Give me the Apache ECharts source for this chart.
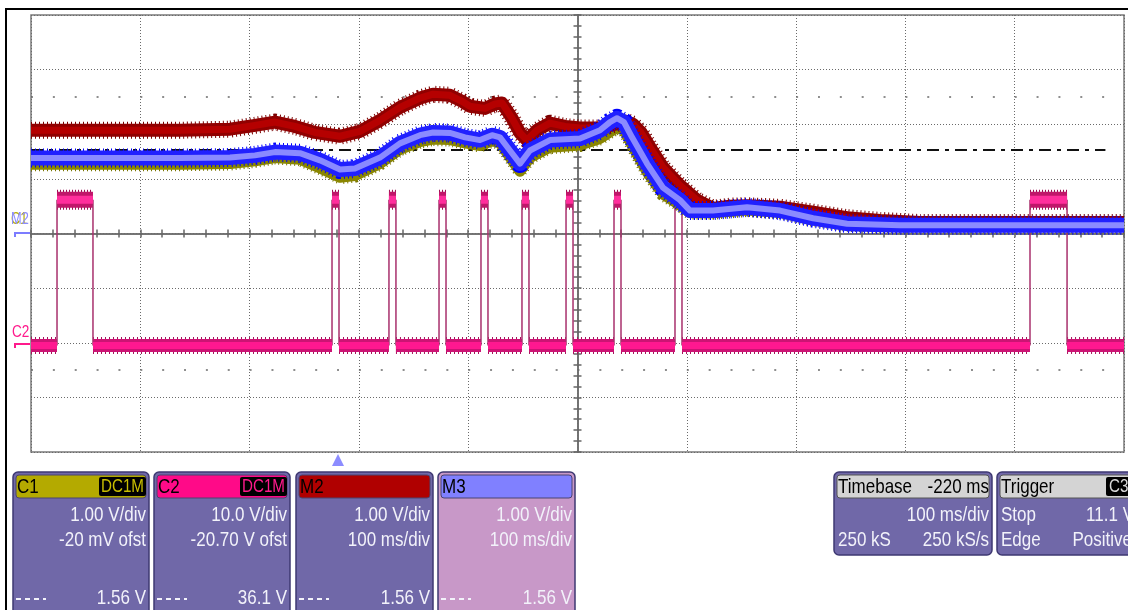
<!DOCTYPE html>
<html><head><meta charset="utf-8">
<script src="https://cdn.jsdelivr.net/npm/echarts@6/dist/echarts.min.js"></script>
<style>html,body{margin:0;padding:0;background:#fff}#c{width:1128px;height:610px}</style>
</head><body><div id="c"></div>
<script>
// ---- data (time in ms relative to trigger, level in screen divisions from centre) ----
const m2TimeMs = [-280,-216.9,-143.7,-97.9,-75.1,-56.8,-38.5,-20.2,2.7,21.0,39.3,57.6,75.9,87.8,103.3,114.3,121.6,135.4,144.5,150.9,160.1,167.4,173.8,182.9,194.8,208.6,222.3,240.6,254.3,263.5,270.8,278.1,286.3,298.2,313.8,329.3,344.0,359.5,375.1,405.3,435.5,466.6,496.8,533.4,606.6,720];
const m2Div = [1.89,1.89,1.89,1.91,1.98,2.04,1.96,1.85,1.78,1.87,2.07,2.31,2.48,2.55,2.53,2.42,2.33,2.29,2.37,2.39,2.11,1.84,1.71,1.89,2.02,1.96,1.93,1.93,2.00,2.06,2.00,1.85,1.58,1.21,0.88,0.61,0.46,0.50,0.51,0.48,0.39,0.29,0.24,0.20,0.20,0.20];
const m3TimeMs = [-280,-216.9,-143.7,-97.9,-75.1,-56.8,-33.9,-15.6,2.7,16.4,39.3,57.6,75.9,87.8,103.3,117.1,130.8,141.8,149.1,158.2,167.4,176.5,194.8,222.3,240.6,249.7,256.1,262.5,269.9,283.6,298.2,313.8,322.9,344.0,375.1,405.3,435.5,466.6,515.1,606.6,720];
const m3Div = [1.38,1.38,1.38,1.39,1.43,1.49,1.47,1.34,1.17,1.19,1.39,1.65,1.80,1.85,1.84,1.76,1.71,1.80,1.76,1.52,1.28,1.52,1.71,1.74,1.89,2.04,2.11,2.04,1.76,1.28,0.84,0.61,0.42,0.42,0.48,0.42,0.28,0.18,0.15,0.15,0.15];
const c1TimeMs = m3TimeMs;
const c1Div = [1.27,1.27,1.27,1.28,1.33,1.39,1.36,1.20,1.03,1.06,1.28,1.54,1.68,1.73,1.72,1.66,1.61,1.70,1.66,1.40,1.14,1.39,1.58,1.62,1.74,1.86,1.94,1.90,1.62,1.13,0.72,0.52,0.38,0.38,0.43,0.39,0.25,0.16,0.13,0.13,0.13];
const c2PulseStartMs = [-256.2,-4.6,47.5,93.3,131.7,169.2,209.5,253.4,309.2,634.0];
const c2PulseEndMs   = [-223.3,1.8,53.9,99.7,138.1,175.6,215.9,259.8,315.6,667.9];
const c2LowDiv = -2.05;
const c2HighDiv = 0.62;
const triggerLevelDiv = 1.54;
const timeMinMs = -280, timeMaxMs = 720;

// ---- build series data ----
const zip = (a, b) => a.map((v, i) => [v, b[i]]);
const lowSeg = [[timeMinMs, c2LowDiv]];
const highSeg = [], edges = [];
c2PulseStartMs.forEach((s, i) => {
  const e = c2PulseEndMs[i];
  lowSeg.push([s, c2LowDiv], [s, '-'], [e, c2LowDiv]);
  highSeg.push([s, c2HighDiv], [e, c2HighDiv], [e, '-']);
  edges.push([s, c2LowDiv], [s, c2HighDiv], [s, '-'], [e, c2LowDiv], [e, c2HighDiv], [e, '-']);
});
lowSeg.push([timeMaxMs, c2LowDiv]);
const m2 = zip(m2TimeMs, m2Div), m3 = zip(m3TimeMs, m3Div), c1 = zip(c1TimeMs, c1Div);

function line(data, color, width, z, dash) {
  return { type: 'line', xAxisIndex: 2, yAxisIndex: 0, data, symbol: 'none', silent: true, z,
    lineStyle: { color, width, cap: 'butt', join: 'round', type: dash || 'solid' }, connectNulls: false };
}

const divX = { type: 'value', min: -5, max: 5, interval: 1, axisLabel: { show: false } };
const tickStyle = { color: '#666', width: 1.5 };
const gridDots = { color: '#6a6a6a', width: 1, type: [1, 2] };
const axisLineStyle = { color: '#6e6e6e', width: 1.6 };
const option = {
  animation: false,
  backgroundColor: '#ffffff',
  grid: { left: 31, top: 15, right: 4, bottom: 158, show: true, borderColor: '#7a7a7a', borderWidth: 1.5, backgroundColor: '#fff' },
  xAxis: [
    Object.assign({}, divX, { position: 'bottom', axisLine: { show: true, onZero: true, onZeroAxisIndex: 0, lineStyle: axisLineStyle },
      axisTick: { show: true, length: 4, lineStyle: tickStyle }, minorTick: { show: true, splitNumber: 5, length: 4, lineStyle: tickStyle },
      splitLine: { show: true, lineStyle: gridDots } }),
    Object.assign({}, divX, { position: 'top', axisLine: { show: true, onZero: true, onZeroAxisIndex: 0, lineStyle: axisLineStyle },
      axisTick: { show: true, length: 4, lineStyle: tickStyle }, minorTick: { show: true, splitNumber: 5, length: 4, lineStyle: tickStyle },
      splitLine: { show: false } }),
    { type: 'value', min: timeMinMs, max: timeMaxMs, show: false }
  ],
  yAxis: [
    { type: 'value', min: -4, max: 4, interval: 1, position: 'left', axisLabel: { show: false },
      axisLine: { show: true, onZero: true, onZeroAxisIndex: 0, lineStyle: axisLineStyle },
      axisTick: { show: true, length: 4, lineStyle: tickStyle }, minorTick: { show: true, splitNumber: 5, length: 4, lineStyle: tickStyle },
      splitLine: { show: true, lineStyle: gridDots } },
    { type: 'value', min: -4, max: 4, interval: 1, position: 'right', axisLabel: { show: false },
      axisLine: { show: true, onZero: true, onZeroAxisIndex: 0, lineStyle: axisLineStyle },
      axisTick: { show: true, length: 4, lineStyle: tickStyle }, minorTick: { show: true, splitNumber: 5, length: 4, lineStyle: tickStyle },
      splitLine: { show: false } }
  ],
  series: [
    Object.assign(line(lowSeg, '#a8105c', 17, 3, [1, 3]), {
      markLine: { silent: true, symbol: ['none', 'none'], label: { show: false },
        data: [
          { yAxis: 2.5, lineStyle: { color: '#6a6a6a', width: 1.5, type: [2, 19.86] } },
          { yAxis: -2.5, lineStyle: { color: '#6a6a6a', width: 1.5, type: [2, 19.86] } },
          [ { coord: [timeMinMs, triggerLevelDiv], lineStyle: { color: '#111', width: 2, type: [12, 6, 4, 6] } }, { coord: [703, triggerLevelDiv] } ]
        ] } }),
    line(lowSeg, '#cc1474', 13, 3),
    line(lowSeg, '#ff1890', 7, 4),
    line(highSeg, '#9a0e50', 20, 3, [1, 2]),
    line(highSeg, '#c0166a', 16, 3),
    line(highSeg, '#ff2e9c', 8, 4),
    line(edges, '#a8306c', 1.5, 3),
    line(c1, '#7a7600', 14, 5, [1, 3]),
    line(c1, '#8a8600', 11, 5),
    line(m2, '#7a0000', 17, 6, [1, 3]),
    line(m2, '#900000', 13, 6),
    line(m2, '#b50000', 7, 7),
    line(m3, '#0000ff', 19, 8, [1, 3]),
    line(m3, '#2020ff', 15, 8),
    line(m3, '#8a8aff', 6, 9)
  ],
  graphic: []
};

// ---- decorations / panels ----
const FONT = (s) => s + 'px "Liberation Sans", Arial, sans-serif';
const G = [];
function txt(x, y, s, align, color, size, sx) {
  G.push({ type: 'text', x, y, scaleX: sx || 0.81, z: 100,
    style: { text: s, x: 0, y: 0, align, verticalAlign: 'middle', textAlign: align, textVerticalAlign: 'middle', font: FONT(size || 21), fill: color } });
}
function rect(x, y, w, h, fill, stroke, r, lw) {
  G.push({ type: 'rect', z: 90, shape: { x, y, width: w, height: h, r: r || 0 }, style: { fill, stroke: stroke || null, lineWidth: lw || 1 } });
}
// outer frame
rect(5, 8, 1130, 2, '#000');
rect(5, 8, 2, 610, '#000');
// left markers
G.push({ type: 'polyline', z: 100, shape: { points: [[15, 237], [15, 233], [30, 233]] }, style: { stroke: '#7c7cff', lineWidth: 2, fill: null } });
G.push({ type: 'polyline', z: 100, shape: { points: [[15, 348], [15, 344], [30, 344]] }, style: { stroke: '#ff1a8c', lineWidth: 2, fill: null } });
txt(11, 220, 'C1', 'left', '#b4aa00', 16, 0.8);
txt(11, 220, 'M2', 'left', '#8c8cff', 16, 0.8);
txt(12, 333, 'C2', 'left', '#ff1a8c', 16, 0.85);
// trigger position marker
G.push({ type: 'polygon', z: 100, shape: { points: [[332, 466], [344, 466], [338, 454]] }, style: { fill: '#8c8cff' } });

const WHITE = '#f2f2fa';
function chanPanel(x, w, body, head, name, box, boxColor, rows) {
  rect(x, 472, w, 150, body, '#3e3872', [5, 5, 0, 0], 1.5);
  rect(x + 3, 475, w - 6, 23, head, '#4a4470', 3, 1);
  txt(x + 4, 487, name, 'left', '#000', 21);
  if (box) { rect(x + w - 50, 477, 47, 19, '#000', null, 2); txt(x + w - 26.5, 487, box, 'center', boxColor, 19, 0.8); }
  txt(x + w - 3, 515, rows[0], 'right', WHITE);
  txt(x + w - 3, 540, rows[1], 'right', WHITE);
  txt(x + w - 3, 598, rows[2], 'right', WHITE);
  G.push({ type: 'line', z: 100, shape: { x1: x + 3, y1: 599, x2: x + 33, y2: 599 }, style: { stroke: WHITE, lineWidth: 2, lineDash: [5, 4] } });
}
chanPanel(13, 136, '#7068a8', '#b4aa00', 'C1', 'DC1M', '#c8be00', ['1.00 V/div', '-20 mV ofst', '1.56 V']);
chanPanel(154, 136, '#7068a8', '#ff0a88', 'C2', 'DC1M', '#ff1a8c', ['10.0 V/div', '-20.70 V ofst', '36.1 V']);
chanPanel(296, 137, '#7068a8', '#b00000', 'M2', null, null, ['1.00 V/div', '100 ms/div', '1.56 V']);
chanPanel(438, 137, '#c898c8', '#8080ff', 'M3', null, null, ['1.00 V/div', '100 ms/div', '1.56 V']);

// timebase
rect(834, 472, 158, 83, '#7068a8', '#3e3872', 5, 1.5);
rect(837, 475, 152, 23, '#d4d4d4', '#555', 3, 1);
txt(838, 487, 'Timebase', 'left', '#000');
txt(989, 487, '-220 ms', 'right', '#000');
txt(989, 515, '100 ms/div', 'right', WHITE);
txt(838, 540, '250 kS', 'left', WHITE);
txt(989, 540, '250 kS/s', 'right', WHITE);
// trigger
rect(997, 472, 150, 83, '#7068a8', '#3e3872', 5, 1.5);
rect(1000, 475, 144, 23, '#d4d4d4', '#555', 3, 1);
txt(1001, 487, 'Trigger', 'left', '#000');
rect(1106, 477, 30, 19, '#000', null, 2);
txt(1109, 487, 'C3', 'left', '#d8d8d8', 19, 0.8);
txt(1001, 515, 'Stop', 'left', WHITE);
txt(1134, 515, '11.1 V', 'right', WHITE);
txt(1001, 540, 'Edge', 'left', WHITE);
txt(1132, 540, 'Positive', 'right', WHITE);

option.graphic = G;
const chart = echarts.init(document.getElementById('c'), null, { renderer: 'canvas' });
chart.setOption(option);
</script></body></html>
